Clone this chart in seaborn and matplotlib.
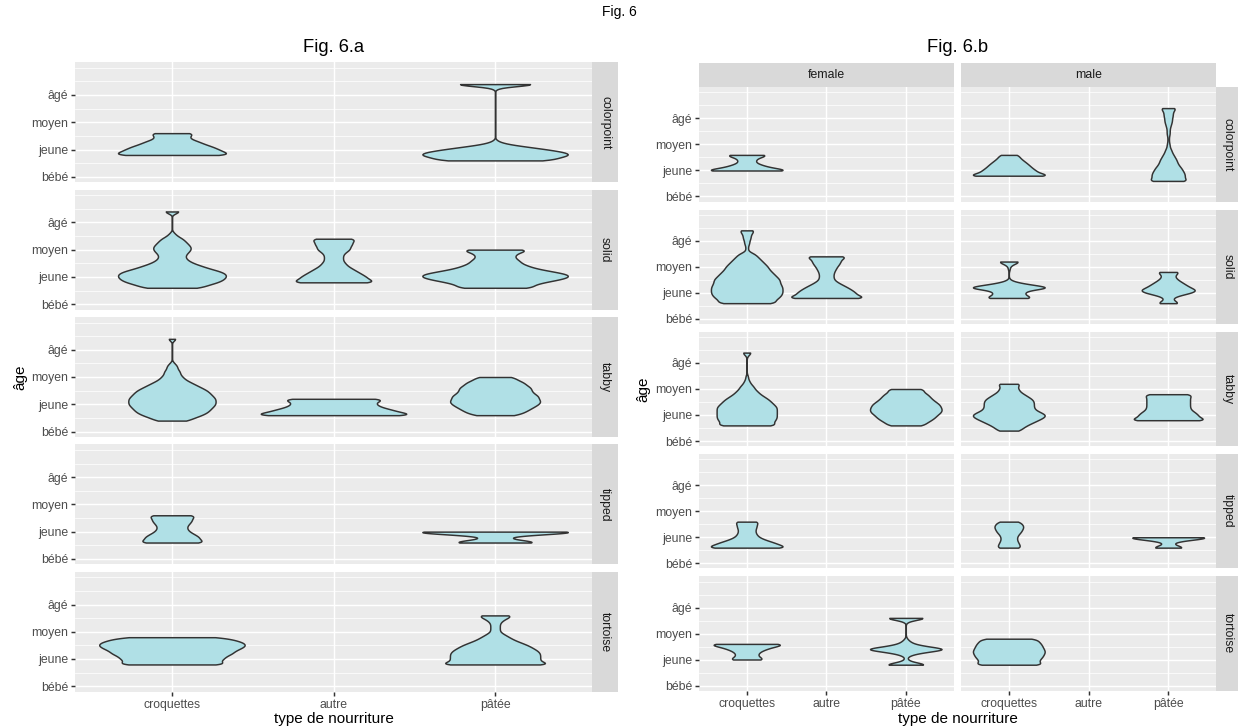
import numpy as np
import pandas as pd
import matplotlib
matplotlib.use("Agg")
import matplotlib.pyplot as plt
import seaborn as sns

plt.rcParams["font.family"] = ["Liberation Sans", "DejaVu Sans"]

# ---------------------------------------------------------------- categories
FOODS = ["croquettes", "autre", "pâtée"]
PATTERNS = ["colorpoint", "solid", "tabby", "tipped", "tortoise"]
SEXES = ["female", "male"]
AGE_TICKS = [1, 2, 3, 4]
AGE_LABELS = ["bébé", "jeune", "moyen", "âgé"]

# ---------------------------------------------------------------- data
# (age score, number of cats) per violin
# Fig. 6.a : all cats
A_COLORPOINT_CROQUETTES = [(1.8, 21), (1.9, 18), (2.0, 16), (2.1, 14), (2.2, 11), (2.3, 9), (2.4, 6), (2.5, 6), (2.6, 8)]
A_COLORPOINT_PATEE = [(1.6, 20), (1.7, 21), (1.8, 26), (1.9, 24), (2.0, 18), (2.1, 11), (2.2, 4), (2.3, 1), (4.3, 2), (4.4, 20)]
A_SOLID_CROQUETTES = [(1.6, 11), (1.7, 13), (1.8, 17), (1.9, 19), (2.0, 20), (2.1, 20), (2.2, 18), (2.3, 14), (2.4, 11), (2.5, 8), (2.6, 6), (2.7, 5), (2.8, 5), (2.9, 6), (3.0, 7), (3.1, 7), (3.2, 6), (3.3, 5), (3.4, 4), (3.5, 2), (3.6, 1), (4.4, 4)]
A_SOLID_AUTRE = [(1.8, 19), (1.9, 15), (2.0, 14), (2.1, 12), (2.2, 10), (2.3, 8), (2.4, 6), (2.5, 5), (2.6, 4), (2.7, 4), (2.8, 4), (2.9, 5), (3.0, 7), (3.1, 7), (3.2, 8), (3.3, 8), (3.4, 10)]
A_SOLID_PATEE = [(1.6, 18), (1.7, 17), (1.8, 22), (1.9, 29), (2.0, 34), (2.1, 33), (2.2, 26), (2.3, 19), (2.4, 15), (2.5, 12), (2.6, 11), (2.7, 9), (2.8, 9), (2.9, 11), (3.0, 17)]
A_TABBY_CROQUETTES = [(1.4, 6), (1.5, 8), (1.6, 11), (1.7, 13), (1.8, 14), (1.9, 15), (2.0, 16), (2.1, 16), (2.2, 16), (2.3, 15), (2.4, 14), (2.5, 13), (2.6, 11), (2.7, 9), (2.8, 7), (2.9, 5), (3.0, 4), (3.1, 3), (3.2, 3), (3.3, 2), (3.4, 2), (3.5, 1), (4.4, 2)]
A_TABBY_AUTRE = [(1.6, 76), (1.7, 57), (1.8, 50), (1.9, 40), (2.0, 36), (2.1, 36), (2.2, 48)]
A_TABBY_PATEE = [(1.6, 9), (1.7, 12), (1.8, 14), (1.9, 16), (2.0, 18), (2.1, 19), (2.2, 18), (2.3, 18), (2.4, 16), (2.5, 15), (2.6, 15), (2.7, 13), (2.8, 12), (2.9, 9), (3.0, 8)]
A_TIPPED_CROQUETTES = [(1.6, 14), (1.7, 11), (1.8, 11), (1.9, 9), (2.0, 7), (2.1, 6), (2.2, 6), (2.3, 7), (2.4, 8), (2.5, 8), (2.6, 10)]
A_TIPPED_PATEE = [(1.6, 55), (1.7, 22), (1.8, 8), (1.9, 44), (2.0, 110)]
A_TORTOISE_CROQUETTES = [(1.8, 26), (1.9, 21), (2.0, 23), (2.1, 24), (2.2, 27), (2.3, 28), (2.4, 31), (2.5, 33), (2.6, 32), (2.7, 28), (2.8, 23)]
A_TORTOISE_PATEE = [(1.8, 26), (1.9, 19), (2.0, 19), (2.1, 19), (2.2, 19), (2.3, 18), (2.4, 16), (2.5, 14), (2.6, 11), (2.7, 8), (2.8, 6), (2.9, 4), (3.0, 2), (3.1, 2), (3.2, 2), (3.3, 2), (3.4, 3), (3.5, 5), (3.6, 8)]

# Fig. 6.b : female
B_F_COLORPOINT_CROQUETTES = [(2.0, 40), (2.1, 20), (2.2, 13), (2.3, 7), (2.4, 7), (2.5, 9), (2.6, 20)]
B_F_SOLID_CROQUETTES = [(1.6, 23), (1.7, 21), (1.8, 24), (1.9, 26), (2.0, 27), (2.1, 27), (2.2, 27), (2.3, 26), (2.4, 25), (2.5, 25), (2.6, 23), (2.7, 21), (2.8, 19), (2.9, 17), (3.0, 16), (3.1, 14), (3.2, 12), (3.3, 10), (3.4, 8), (3.5, 6), (3.6, 1), (3.7, 1), (3.8, 1), (3.9, 2), (4.0, 2), (4.1, 3), (4.2, 3), (4.3, 4), (4.4, 6)]
B_F_SOLID_AUTRE = [(1.8, 61), (1.9, 43), (2.0, 41), (2.1, 36), (2.2, 30), (2.3, 23), (2.4, 16), (2.5, 11), (2.6, 10), (2.7, 10), (2.8, 11), (2.9, 13), (3.0, 15), (3.1, 18), (3.2, 20), (3.3, 21), (3.4, 31)]
B_F_TABBY_CROQUETTES = [(1.6, 23), (1.7, 19), (1.8, 21), (1.9, 22), (2.0, 22), (2.1, 22), (2.2, 22), (2.3, 22), (2.4, 20), (2.5, 18), (2.6, 16), (2.7, 13), (2.8, 10), (2.9, 8), (3.0, 6), (3.1, 5), (3.2, 3), (3.3, 2), (3.4, 1), (3.5, 1), (4.3, 1), (4.4, 4)]
B_F_TABBY_PATEE = [(1.6, 15), (1.7, 17), (1.8, 21), (1.9, 24), (2.0, 26), (2.1, 29), (2.2, 30), (2.3, 29), (2.4, 28), (2.5, 25), (2.6, 22), (2.7, 20), (2.8, 18), (2.9, 14), (3.0, 16)]
B_F_TIPPED_CROQUETTES = [(1.6, 35), (1.7, 27), (1.8, 22), (1.9, 15), (2.0, 10), (2.1, 8), (2.2, 7), (2.3, 7), (2.4, 8), (2.5, 8), (2.6, 10)]
B_F_TORTOISE_CROQUETTES = [(2.0, 16), (2.1, 10), (2.2, 9), (2.3, 11), (2.4, 16), (2.5, 23), (2.6, 36)]
B_F_TORTOISE_PATEE = [(1.8, 20), (1.9, 5), (2.0, 1), (2.1, 1), (2.2, 5), (2.3, 16), (2.4, 34), (2.5, 16), (2.6, 6), (2.7, 3), (2.8, 1), (3.5, 3), (3.6, 20)]

# Fig. 6.b : male
B_M_COLORPOINT_CROQUETTES = [(1.8, 121), (1.9, 77), (2.0, 70), (2.1, 60), (2.2, 53), (2.3, 45), (2.4, 36), (2.5, 28), (2.6, 25)]
B_M_COLORPOINT_PATEE = [(1.6, 27), (1.7, 21), (1.8, 22), (1.9, 21), (2.0, 19), (2.1, 17), (2.2, 14), (2.3, 12), (2.4, 11), (2.5, 9), (2.6, 7), (2.7, 5), (2.8, 4), (2.9, 2), (3.0, 2), (3.1, 1), (3.2, 1), (3.3, 1), (3.4, 2), (3.5, 2), (3.6, 2), (3.7, 3), (3.8, 4), (3.9, 5), (4.0, 5), (4.1, 6), (4.2, 6), (4.3, 7), (4.4, 11)]
B_M_SOLID_CROQUETTES = [(1.8, 26), (1.9, 16), (2.0, 15), (2.1, 18), (2.2, 45), (2.3, 24), (2.4, 8), (2.5, 1), (2.9, 1), (3.0, 1), (3.1, 4), (3.2, 13)]
B_M_SOLID_PATEE = [(1.6, 9), (1.7, 4), (1.8, 3), (1.9, 8), (2.0, 17), (2.1, 21), (2.2, 16), (2.3, 13), (2.4, 10), (2.5, 7), (2.6, 5), (2.7, 5), (2.8, 9)]
B_M_TABBY_CROQUETTES = [(1.4, 8), (1.5, 10), (1.6, 13), (1.7, 17), (1.8, 21), (1.9, 25), (2.0, 27), (2.1, 23), (2.2, 19), (2.3, 18), (2.4, 18), (2.5, 18), (2.6, 17), (2.7, 14), (2.8, 11), (2.9, 8), (3.0, 7), (3.1, 6), (3.2, 9)]
B_M_TABBY_PATEE = [(1.8, 41), (1.9, 30), (2.0, 29), (2.1, 26), (2.2, 22), (2.3, 21), (2.4, 21), (2.5, 21), (2.6, 21), (2.7, 21), (2.8, 24)]
B_M_TIPPED_CROQUETTES = [(1.6, 9), (1.7, 8), (1.8, 7), (1.9, 6), (2.0, 6), (2.1, 7), (2.2, 9), (2.3, 10), (2.4, 11), (2.5, 10), (2.6, 8)]
B_M_TIPPED_PATEE = [(1.6, 43), (1.7, 14), (1.8, 9), (1.9, 45), (2.0, 117)]
B_M_TORTOISE_CROQUETTES = [(1.8, 27), (1.9, 22), (2.0, 23), (2.1, 25), (2.2, 26), (2.3, 27), (2.4, 26), (2.5, 25), (2.6, 24), (2.7, 22), (2.8, 21)]

GROUPS = [
    ("a", "all", "colorpoint", "croquettes", A_COLORPOINT_CROQUETTES),
    ("a", "all", "colorpoint", "pâtée", A_COLORPOINT_PATEE),
    ("a", "all", "solid", "croquettes", A_SOLID_CROQUETTES),
    ("a", "all", "solid", "autre", A_SOLID_AUTRE),
    ("a", "all", "solid", "pâtée", A_SOLID_PATEE),
    ("a", "all", "tabby", "croquettes", A_TABBY_CROQUETTES),
    ("a", "all", "tabby", "autre", A_TABBY_AUTRE),
    ("a", "all", "tabby", "pâtée", A_TABBY_PATEE),
    ("a", "all", "tipped", "croquettes", A_TIPPED_CROQUETTES),
    ("a", "all", "tipped", "pâtée", A_TIPPED_PATEE),
    ("a", "all", "tortoise", "croquettes", A_TORTOISE_CROQUETTES),
    ("a", "all", "tortoise", "pâtée", A_TORTOISE_PATEE),
    ("b", "female", "colorpoint", "croquettes", B_F_COLORPOINT_CROQUETTES),
    ("b", "female", "solid", "croquettes", B_F_SOLID_CROQUETTES),
    ("b", "female", "solid", "autre", B_F_SOLID_AUTRE),
    ("b", "female", "tabby", "croquettes", B_F_TABBY_CROQUETTES),
    ("b", "female", "tabby", "pâtée", B_F_TABBY_PATEE),
    ("b", "female", "tipped", "croquettes", B_F_TIPPED_CROQUETTES),
    ("b", "female", "tortoise", "croquettes", B_F_TORTOISE_CROQUETTES),
    ("b", "female", "tortoise", "pâtée", B_F_TORTOISE_PATEE),
    ("b", "male", "colorpoint", "croquettes", B_M_COLORPOINT_CROQUETTES),
    ("b", "male", "colorpoint", "pâtée", B_M_COLORPOINT_PATEE),
    ("b", "male", "solid", "croquettes", B_M_SOLID_CROQUETTES),
    ("b", "male", "solid", "pâtée", B_M_SOLID_PATEE),
    ("b", "male", "tabby", "croquettes", B_M_TABBY_CROQUETTES),
    ("b", "male", "tabby", "pâtée", B_M_TABBY_PATEE),
    ("b", "male", "tipped", "croquettes", B_M_TIPPED_CROQUETTES),
    ("b", "male", "tipped", "pâtée", B_M_TIPPED_PATEE),
    ("b", "male", "tortoise", "croquettes", B_M_TORTOISE_CROQUETTES),
]

rows = []
for figid, sex, pattern, food, pairs in GROUPS:
    for age, n in pairs:
        rows.extend([(figid, sex, pattern, food, age)] * n)
df = pd.DataFrame(rows, columns=["fig", "sex", "pattern", "food", "age"])

# ---------------------------------------------------------------- style
FILL = "#B0E0E6"
EDGE = "#333333"
PANEL_BG = "#EBEBEB"
STRIP_BG = "#D9D9D9"
LW = 1.07
BW = 0.07


def fixed_bw(kde):
    return BW / np.std(kde.dataset, ddof=1)


W, H = 1238, 728
fig = plt.figure(figsize=(W / 100, H / 100), dpi=100)


def px_axes(x0, y0, x1, y1):
    return fig.add_axes([x0 / W, 1 - y1 / H, (x1 - x0) / W, (y1 - y0) / H])


def draw_panel(ax, sub, show_x, show_y):
    if len(sub):
        sns.violinplot(data=sub, x="food", y="age", order=FOODS, ax=ax,
                       cut=0, density_norm="count", bw_method=fixed_bw,
                       width=0.9, inner=None, color=FILL, linecolor=EDGE,
                       linewidth=LW, saturation=1)
    ax.set_facecolor(PANEL_BG)
    ax.set_xlim(-0.6, 2.6)
    ax.set_ylim(0.8, 5.2)
    ax.set_xticks([0, 1, 2])
    ax.set_yticks(AGE_TICKS)
    ax.set_yticks([1.5, 2.5, 3.5, 4.5, 5.0], minor=True)
    ax.xaxis.grid(True, which="major", color="white", linewidth=LW)
    ax.yaxis.grid(True, which="major", color="white", linewidth=LW)
    ax.yaxis.grid(True, which="minor", color="white", linewidth=LW / 2)
    ax.set_axisbelow(True)
    for s in ax.spines.values():
        s.set_visible(False)
    ax.tick_params(which="minor", length=0)
    ax.tick_params(which="major", length=2.75, width=LW, color=EDGE,
                   labelsize=8.8, labelcolor="#4D4D4D", pad=2.2)
    ax.set_xlabel("")
    ax.set_ylabel("")
    if show_y:
        ax.set_yticklabels(AGE_LABELS)
    else:
        ax.tick_params(axis="y", length=0, labelleft=False)
    if show_x:
        ax.set_xticklabels(FOODS)
    else:
        ax.tick_params(axis="x", length=0, labelbottom=False)


def strip(x0, y0, x1, y1, text, rot):
    s = px_axes(x0, y0, x1, y1)
    s.set_facecolor(STRIP_BG)
    s.set_xticks([])
    s.set_yticks([])
    for sp in s.spines.values():
        sp.set_visible(False)
    s.text(0.5, 0.5, text, rotation=rot, ha="center", va="center",
           fontsize=8.8, color="#1A1A1A", transform=s.transAxes)


# ---------------------------------------------------------------- Fig. 6.a
A_X0, A_X1 = 75, 592
A_TOP, A_H, A_GAP = 62.3, 119.9, 7.475
for i, pattern in enumerate(PATTERNS):
    y0 = A_TOP + i * (A_H + A_GAP)
    ax = px_axes(A_X0, y0, A_X1, y0 + A_H)
    sub = df[(df.fig == "a") & (df.pattern == pattern)]
    draw_panel(ax, sub, show_x=(i == len(PATTERNS) - 1), show_y=True)
    strip(A_X1, y0, A_X1 + 26, y0 + A_H, pattern, -90)

# ---------------------------------------------------------------- Fig. 6.b
B_COLS = {"female": (699, 953.5), "male": (961, 1216)}
B_TOP, B_H, B_GAP = 87.3, 114.4, 7.85
for sex, (x0, x1) in B_COLS.items():
    strip(x0, 62.6, x1, B_TOP, sex, 0)
    for i, pattern in enumerate(PATTERNS):
        y0 = B_TOP + i * (B_H + B_GAP)
        ax = px_axes(x0, y0, x1, y0 + B_H)
        sub = df[(df.fig == "b") & (df.sex == sex) & (df.pattern == pattern)]
        draw_panel(ax, sub, show_x=(i == len(PATTERNS) - 1), show_y=(sex == "female"))
        if sex == "male":
            strip(x1, y0, x1 + 24, y0 + B_H, pattern, -90)

# ---------------------------------------------------------------- texts
def ftext(x, y, s, **kw):
    fig.text(x / W, 1 - y / H, s, ha="center", va="center", **kw)


ftext(619, 12, "Fig. 6", fontsize=10, color="black")
ftext((A_X0 + A_X1) / 2, 47, "Fig. 6.a", fontsize=13.2, color="black")
ftext((699 + 1216) / 2, 47, "Fig. 6.b", fontsize=13.2, color="black")
ftext((A_X0 + A_X1) / 2, 719, "type de nourriture", fontsize=11, color="black")
ftext((699 + 1216) / 2, 719, "type de nourriture", fontsize=11, color="black")
ftext(20, 377, "âge", fontsize=11, color="black", rotation=90)
ftext(643, 389, "âge", fontsize=11, color="black", rotation=90)

fig.savefig("out.png", dpi=100, facecolor="white")
